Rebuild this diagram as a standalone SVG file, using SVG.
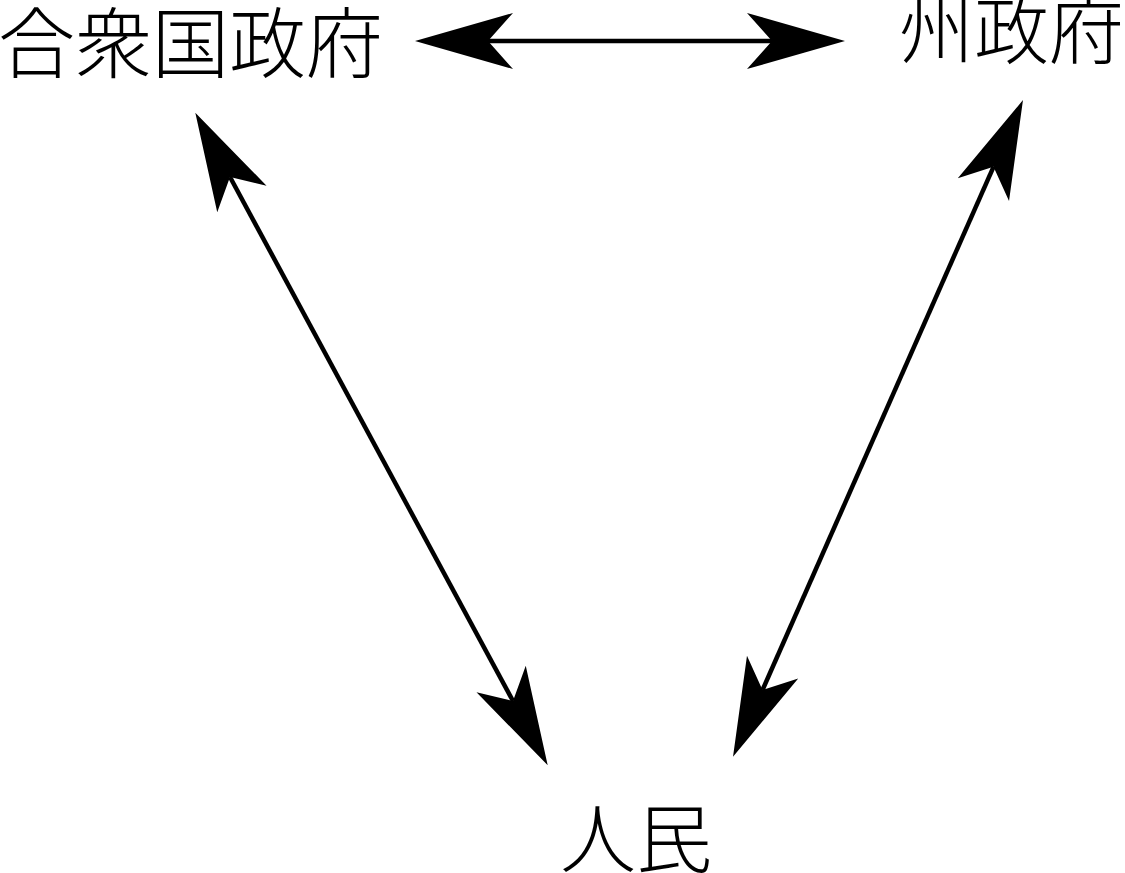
<svg xmlns="http://www.w3.org/2000/svg" width="1125" height="873" viewBox="0 0 1125 873">
<style>
.lbl{font-family:"Noto Sans CJK JP","Noto Sans CJK SC",serif;font-size:76px;font-weight:300;fill:#000}
.conn{stroke:#000;stroke-width:4.5;fill:none;marker-start:url(#head);marker-end:url(#head)}
</style>
<defs>
<marker id="head" markerUnits="userSpaceOnUse" orient="auto-start-reverse" refX="0" refY="0" markerWidth="200" markerHeight="200" overflow="visible">
<path d="M73,0 L-25,-28 L0,0 L-25,28 Z" fill="#000"/>
</marker>
</defs>
<rect width="1125" height="873" fill="#fff"/>
<g id="connectors">
<line class="conn" x1="488" y1="41" x2="772" y2="41"/>
<line class="conn" x1="230" y1="177" x2="513" y2="701"/>
<line class="conn" x1="993.5" y1="166.8" x2="762.5" y2="690"/>
</g>
<g id="federal"><text class="lbl" x="-2" y="72" style="font-size:77px">合衆国政府</text></g>
<g id="state"><text class="lbl" x="899" y="58" style="font-size:75px">州政府</text></g>
<g id="people"><text class="lbl" x="560" y="867">人民</text></g>
</svg>
